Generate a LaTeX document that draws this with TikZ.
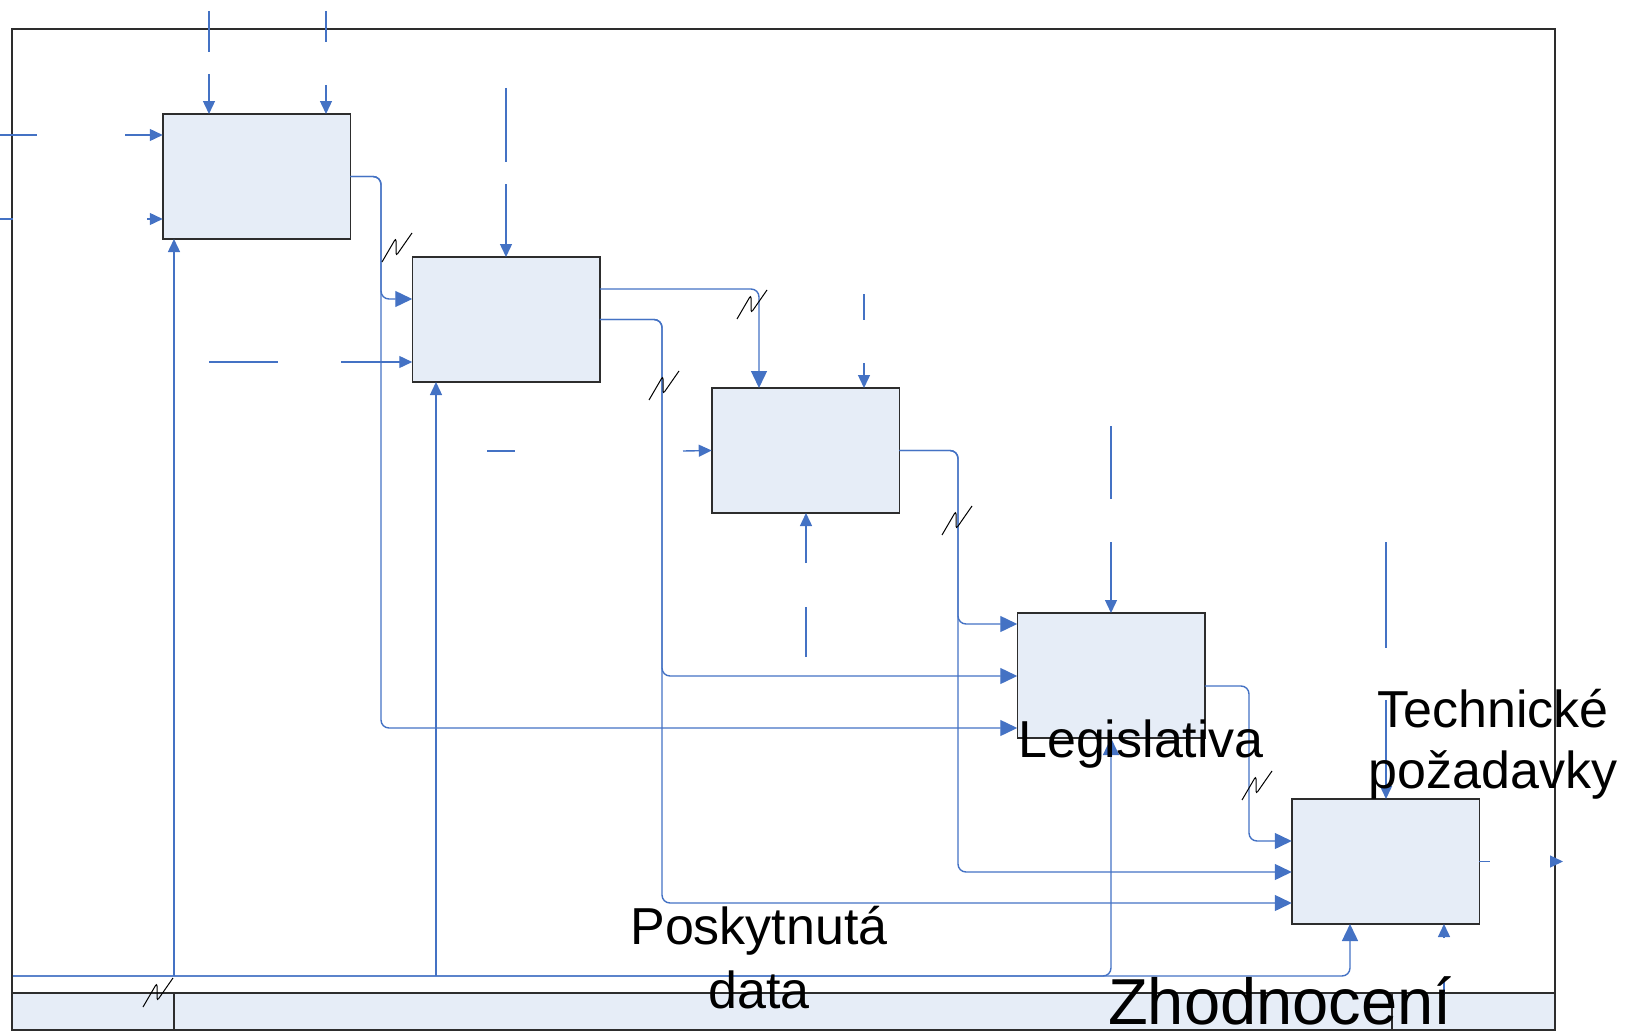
\documentclass[tikz,border=0pt]{standalone}
\usepackage{fontspec}
\setmainfont{Liberation Sans}
\usetikzlibrary{arrows.meta}

\definecolor{flow}{RGB}{68,114,196}
\definecolor{boxfill}{RGB}{230,237,247}
\definecolor{boxline}{RGB}{45,45,45}

\tikzset{
  fn/.style={draw=boxline, line width=1.5pt, fill=boxfill, minimum width=187.5pt,
             minimum height=125pt, inner sep=0pt, outer sep=0pt},
  conn/.style={draw=flow, line width=1.4pt, rounded corners=8pt},
  bigtip/.style={-{Triangle[length=17pt,width=16pt]}},
  smalltip/.style={-{Triangle[length=13pt,width=12pt]}},
  squig/.style={black, line width=1pt, rounded corners=3pt},
  lbl/.style={inner sep=0pt, font=\fontsize{52}{61}\selectfont, align=center},
  frameline/.style={draw=boxline, line width=1.5pt},
}

% break mark drawn across a tunnelled arrow
\newcommand\breakmark[1]{\draw[squig] (#1) -- ++(14,-24) -- ++(0,18) -- ++(16,-23);}

\begin{document}
\begin{tikzpicture}[x=1pt,y=-1pt]
\useasboundingbox (0,0) rectangle (1626,1033);

% diagram frame and title strip
\draw[frameline, fill=boxfill] (12,993) rectangle (1555,1030);
\draw[frameline] (12,29) rectangle (1555,1030);
\draw[frameline] (174,993) -- (174,1030) (1392,993) -- (1392,1030);

% activity boxes
\node[fn] (A) at (256.5,176.5) {};
\node[fn] (B) at (506,319.5) {};
\node[fn] (C) at (805.5,450.5) {};
\node[fn] (D) at (1111,675.5) {};
\node[fn] (E) at (1385.5,861.5) {};

% boundary arrows (split where their labels would sit)
\coordinate (a1s) at (209,11);  \coordinate (a1e) at (209,52);  \coordinate (a1r) at (209,74);
\coordinate (a2s) at (326,11);  \coordinate (a2e) at (326,42);  \coordinate (a2r) at (326,85);
\coordinate (a3s) at (0,135);   \coordinate (a3e) at (37,135);  \coordinate (a3r) at (125,135);
\coordinate (a4s) at (0,219);   \coordinate (a4e) at (13,219);  \coordinate (a4r) at (147,219);
\coordinate (b1s) at (506,88);  \coordinate (b1e) at (506,162); \coordinate (b1r) at (506,184);
\coordinate (b2s) at (209,362); \coordinate (b2e) at (278,362); \coordinate (b2r) at (341,362);
\coordinate (c1s) at (864,294); \coordinate (c1e) at (864,320); \coordinate (c1r) at (864,363);
\coordinate (c2s) at (487,451); \coordinate (c2e) at (515,451); \coordinate (c2r) at (683,451);
\coordinate (c3s) at (806,657); \coordinate (c3e) at (806,607); \coordinate (c3r) at (806,563);
\coordinate (d1s) at (1111,426); \coordinate (d1e) at (1111,499); \coordinate (d1r) at (1111,542);
\coordinate (e1s) at (1386,542); \coordinate (e1e) at (1386,648); \coordinate (e1r) at (1386,700);
\coordinate (e2s) at (1444,995); \coordinate (e2e) at (1444,982); \coordinate (e2r) at (1444,938);
\coordinate (eo1) at (1490,861.5); \coordinate (eo2) at (1550,861.5); \coordinate (eo3) at (1563,861.5);

\draw[conn] (a1s) -- (a1e);  \draw[conn,smalltip] (a1r) -- (A.north -| a1r);
\draw[conn] (a2s) -- (a2e);  \draw[conn,smalltip] (a2r) -- (A.north -| a2r);
\draw[conn] (a3s) -- (a3e);  \draw[conn,smalltip] (a3r) -- (A.west |- a3r);
\draw[conn] (a4s) -- (a4e);  \draw[conn,smalltip] (a4r) -- (A.west |- a4r);
\draw[conn] (b1s) -- (b1e);  \draw[conn,smalltip] (b1r) -- (B.north);
\draw[conn] (b2s) -- (b2e);  \draw[conn,smalltip] (b2r) -- (B.west |- b2r);
\draw[conn] (c1s) -- (c1e);  \draw[conn,smalltip] (c1r) -- (C.north -| c1r);
\draw[conn] (c2s) -- (c2e);  \draw[conn,smalltip] (c2r) -- (C.west);
\draw[conn] (c3s) -- (c3e);  \draw[conn,smalltip] (c3r) -- (C.south -| c3r);
\draw[conn] (d1s) -- (d1e);  \draw[conn,smalltip] (d1r) -- (D.north);
\draw[conn] (e1s) -- (e1e);  \draw[conn,smalltip] (e1r) -- (E.north -| e1r);
\draw[conn] (e2s) -- (e2e);  \draw[conn,smalltip] (e2r) -- (E.south -| e2r);
\draw[conn] (E.east) -- (eo1); \draw[conn,smalltip] (eo2) -- (eo3);

% outputs of A
\draw[conn,bigtip] (A.east) -- (381,176.5) -- (381,299) -- (B.west |- 0,299);
\draw[conn,bigtip] (A.east) -- (381,176.5) -- (381,728) -- (D.west |- 0,728);
% outputs of B
\draw[conn,bigtip] (B.east |- 0,289) -- (759,289) -- (C.north -| 759,0);
\draw[conn,bigtip] (B.east) -- (662,319.5) -- (662,676) -- (D.west |- 0,676);
\draw[conn,bigtip] (B.east) -- (662,319.5) -- (662,903) -- (E.west |- 0,903);
% outputs of C
\draw[conn,bigtip] (C.east) -- (958,450.5) -- (958,624) -- (D.west |- 0,624);
\draw[conn,bigtip] (C.east) -- (958,450.5) -- (958,872) -- (E.west |- 0,872);
% output of D
\draw[conn,bigtip] (D.east |- 0,686) -- (1249,686) -- (1249,841) -- (E.west |- 0,841);

% mechanism bus along the bottom
\coordinate (bus) at (13,976);
\draw[conn,bigtip] (bus) -- (1111,976) -- (D.south);
\draw[conn,bigtip] (bus) -- (1350,976) -- (E.south -| 1350,0);
\draw[conn,smalltip] (174,976) -- (A.south -| 174,0);
\draw[conn,smalltip] (436,976) -- (B.south -| 436,0);

% break marks
\breakmark{382,262}
\breakmark{737,319}
\breakmark{649,400}
\breakmark{942,535}
\breakmark{1242,800}
\breakmark{143,1007}

% labels (multi-line nodes are anchored on their last baseline)
\node[lbl, anchor=base west] (leg) at (1018,757) {Legislativa};
\node[lbl, anchor=base] (tech) at (1493,788) {Technické\\požadavky};
\node[lbl, anchor=base, font=\fontsize{52}{64}\selectfont] (data) at (759,1008) {Poskytnutá\\data};
\node[lbl, anchor=base west, font=\fontsize{65}{70}\selectfont] (zh) at (1108,1024) {Zhodnocení};
\end{tikzpicture}
\end{document}
